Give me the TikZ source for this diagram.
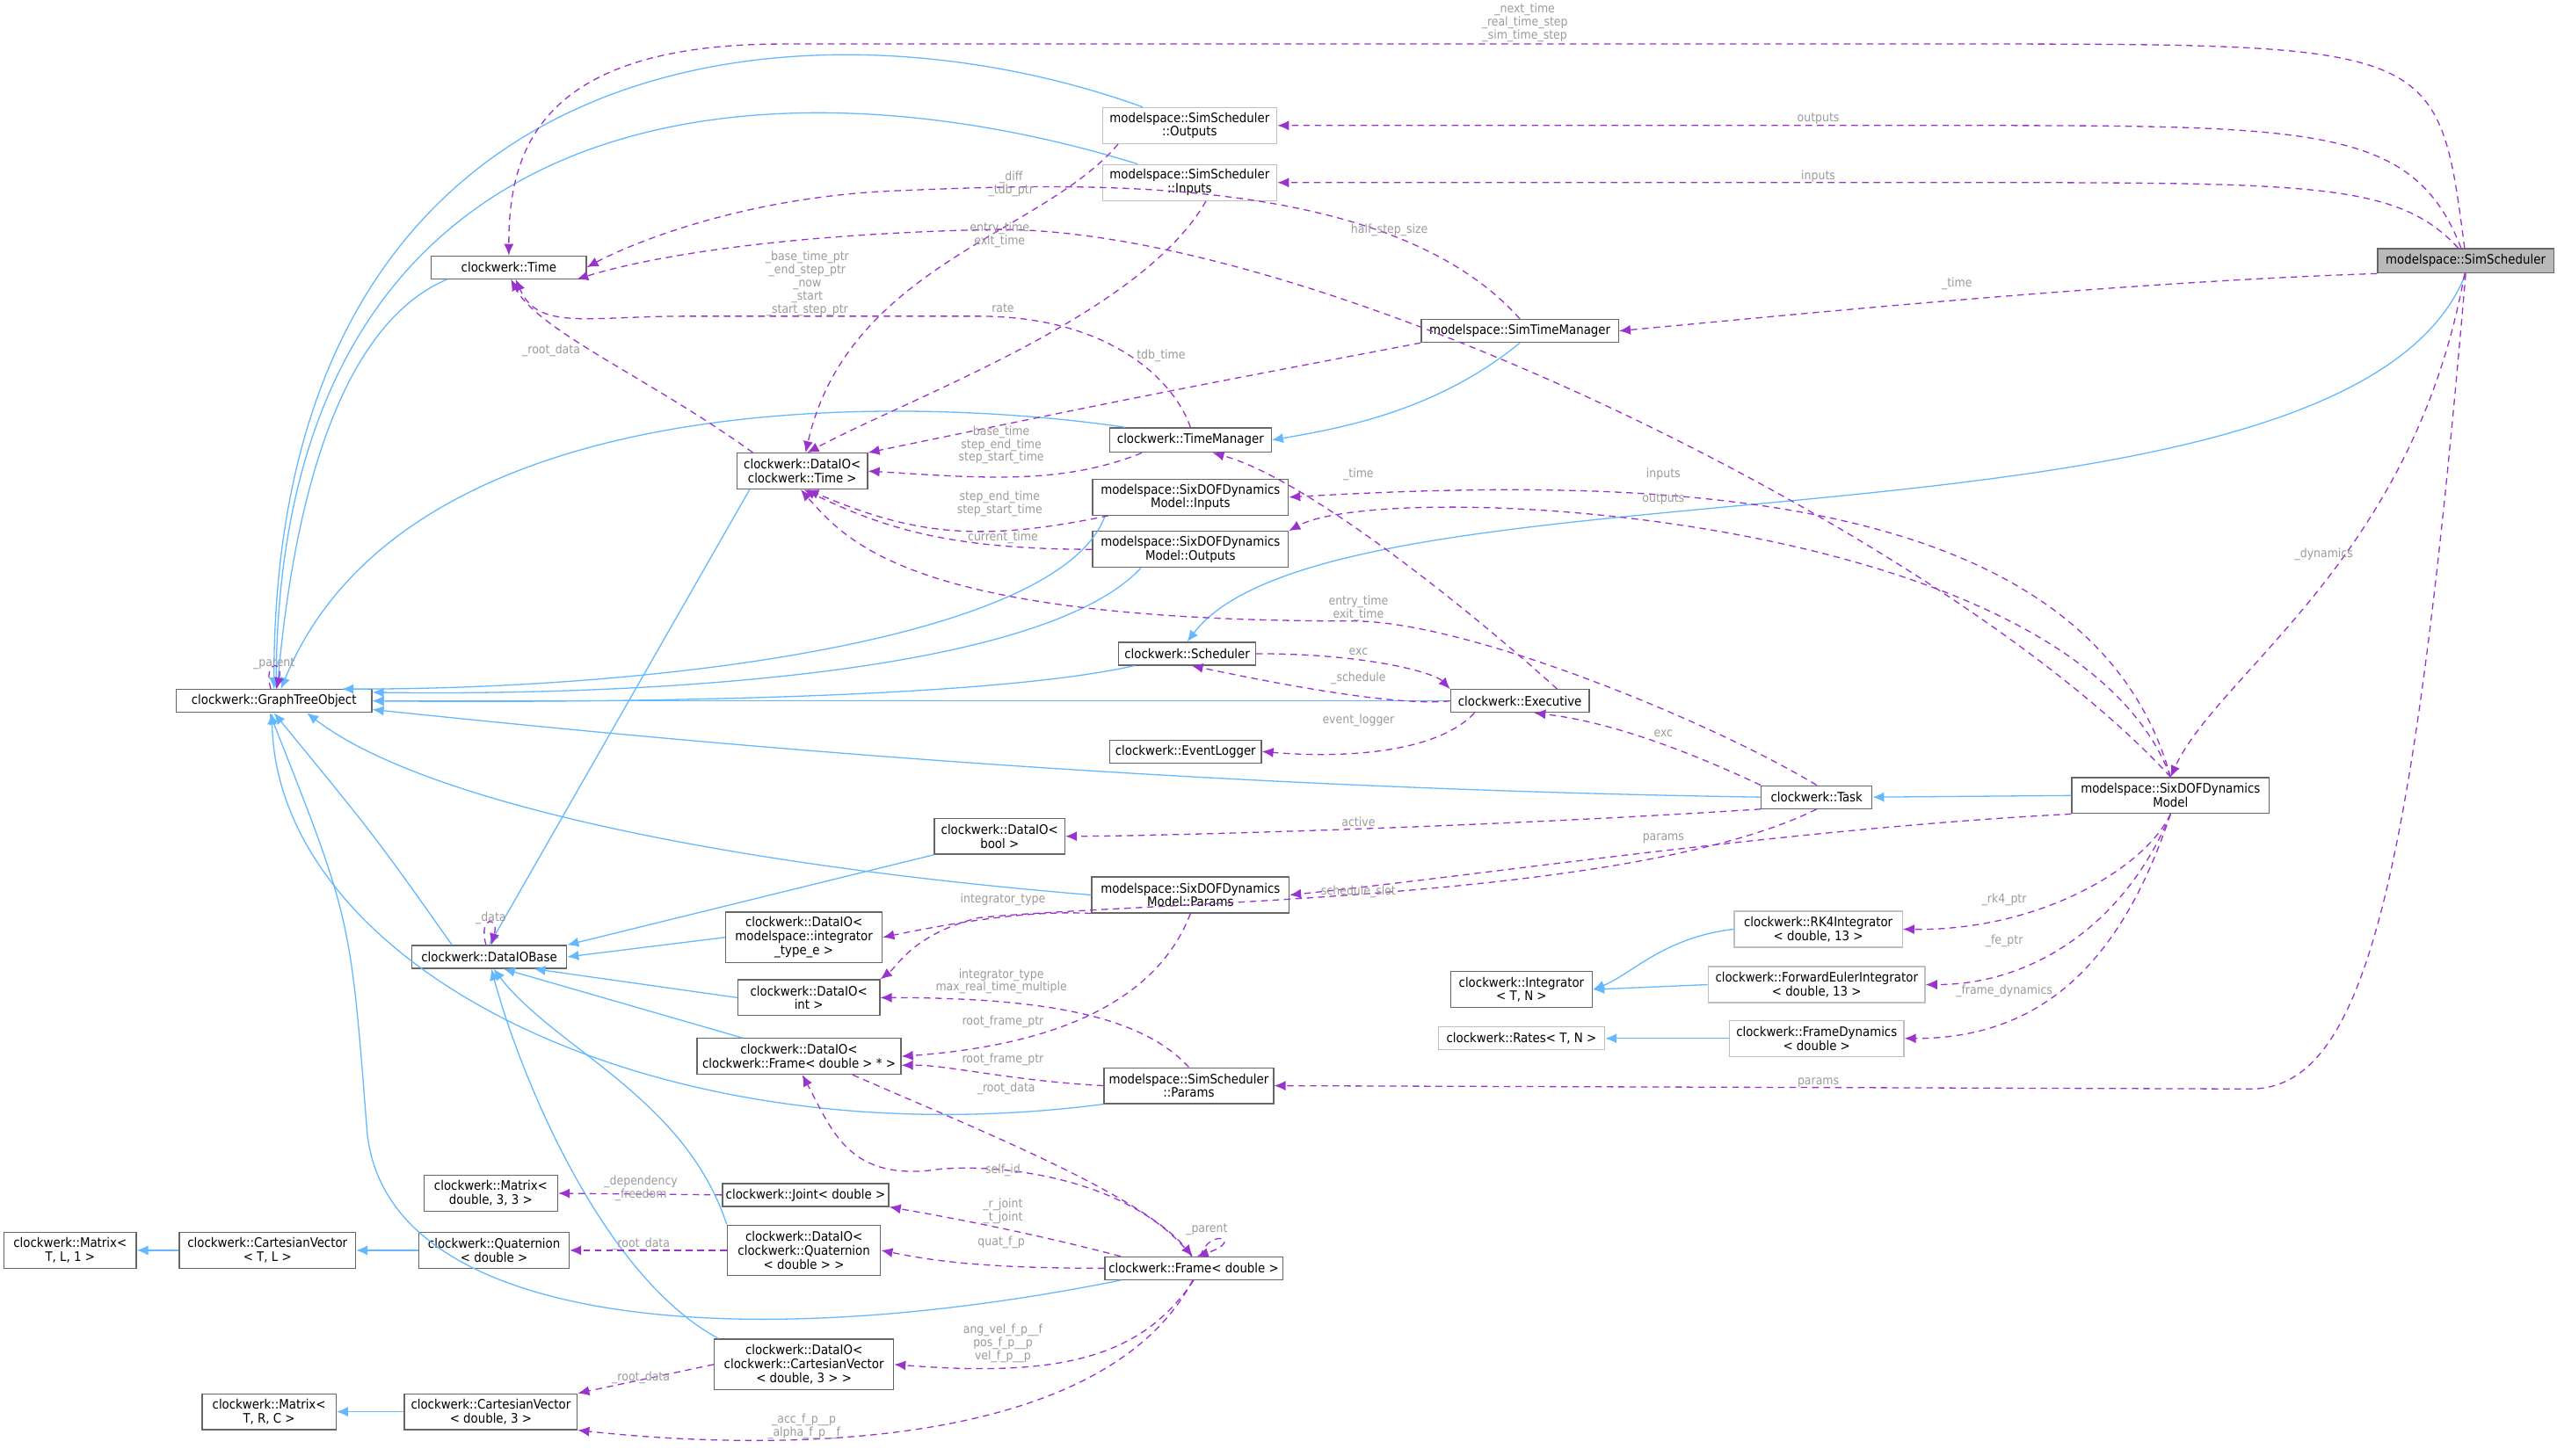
\documentclass[tikz,border=0pt]{standalone}
\usepackage{fontspec}
\setmainfont{DejaVu Sans Condensed}
\usetikzlibrary{arrows.meta}
\definecolor{inhc}{HTML}{63B8FF}
\definecolor{usec}{HTML}{9A32CD}
\definecolor{lblc}{HTML}{9A9A9A}
\definecolor{bdk}{HTML}{666666}
\definecolor{blt}{HTML}{BFBFBF}
\tikzset{
 box/.style={draw=bdk,fill=white,font=\fontsize{8}{8.5}\selectfont,align=center,inner sep=1pt,line width=0.7pt},
 lbox/.style={box,draw=blt},
 inh/.style={draw=inhc,line width=0.7pt,-{Latex[length=7pt,width=6pt]}},
 use/.style={draw=usec,line width=0.7pt,dashed,dash pattern=on 4pt off 3pt,-{Latex[length=7pt,width=6pt]}},
 lbl/.style={text=lblc,font=\fontsize{7.5}{8}\selectfont,align=center,inner sep=0.5pt}
}
\newcommand{\bx}[6]{\node[#1,minimum width=#4pt,minimum height=#5pt] (#2) at (#3) {#6};}
\begin{document}
\begin{tikzpicture}[x=1pt,y=1pt]
\useasboundingbox (0,0) rectangle (1568,893);
% nodes
\bx{box,fill=gray!55}{ss}{1512,733}{108}{15}{modelspace::SimScheduler}
\bx{lbox}{sso}{729.5,816}{107}{22}{modelspace::SimScheduler\\::Outputs}
\bx{lbox}{ssi}{729.5,781}{107}{22}{modelspace::SimScheduler\\::Inputs}
\bx{box}{time}{312,729}{95}{14}{clockwerk::Time}
\bx{box}{stm}{932,690}{121}{14}{modelspace::SimTimeManager}
\bx{box}{tm}{730,623}{99}{15}{clockwerk::TimeManager}
\bx{box}{dt}{492,604}{80}{22}{clockwerk::DataIO<\\clockwerk::Time >}
\bx{box}{sdi}{730,588}{120}{22}{modelspace::SixDOFDynamics\\Model::Inputs}
\bx{box}{sdo}{730,556}{120}{22}{modelspace::SixDOFDynamics\\Model::Outputs}
\bx{box}{sch}{728,492}{84}{14}{clockwerk::Scheduler}
\bx{box}{exe}{932,463}{85}{14}{clockwerk::Executive}
\bx{box}{evl}{727,432}{93}{14}{clockwerk::EventLogger}
\bx{box}{gto}{168,463}{120}{14}{clockwerk::GraphTreeObject}
\bx{box}{task}{1114,404}{68}{14}{clockwerk::Task}
\bx{box}{model}{1331,405}{121}{22}{modelspace::SixDOFDynamics\\Model}
\bx{box}{dbool}{613,380}{80}{22}{clockwerk::DataIO<\\bool >}
\bx{box}{sdp}{730,344}{121}{22}{modelspace::SixDOFDynamics\\Model::Params}
\bx{box}{dib}{300,306}{95}{14}{clockwerk::DataIOBase}
\bx{box}{dinte}{493,318}{96}{31}{clockwerk::DataIO<\\modelspace::integrator\\\_type\_e >}
\bx{box}{dint}{496,281}{87}{22}{clockwerk::DataIO<\\int >}
\bx{box}{dframe}{490,245}{125}{22}{clockwerk::DataIO<\\clockwerk::Frame< double > * >}
\bx{box}{ssp}{729,227}{104}{22}{modelspace::SimScheduler\\::Params}
\bx{box}{integ}{933,286}{87}{22}{clockwerk::Integrator\\< T, N >}
\bx{lbox}{rk4}{1115,323}{103}{22}{clockwerk::RK4Integrator\\< double, 13 >}
\bx{lbox}{fe}{1114,289}{133}{22}{clockwerk::ForwardEulerIntegrator\\< double, 13 >}
\bx{lbox}{rates}{933,256}{102}{14}{clockwerk::Rates< T, N >}
\bx{lbox}{fd}{1114,256}{107}{22}{clockwerk::FrameDynamics\\< double >}
\bx{box}{m33}{301,161}{82}{22}{clockwerk::Matrix<\\double, 3, 3 >}
\bx{box}{joint}{494,160}{102}{14}{clockwerk::Joint< double >}
\bx{box}{mtl}{43,126}{81}{22}{clockwerk::Matrix<\\T, L, 1 >}
\bx{box}{cvtl}{164,126}{108}{22}{clockwerk::CartesianVector\\< T, L >}
\bx{box}{quat}{303,126}{92}{22}{clockwerk::Quaternion\\< double >}
\bx{box}{dquat}{493,126}{94}{31}{clockwerk::DataIO<\\clockwerk::Quaternion\\< double > >}
\bx{box}{frame}{732,115}{109}{14}{clockwerk::Frame< double >}
\bx{box}{dcv}{493,56}{110}{31}{clockwerk::DataIO<\\clockwerk::CartesianVector\\< double, 3 > >}
\bx{box}{mtrc}{165,27}{82}{22}{clockwerk::Matrix<\\T, R, C >}
\bx{box}{cv3}{301,27}{106}{22}{clockwerk::CartesianVector\\< double, 3 >}
% inheritance
\draw[inh] (sso.north west) ++(25,0) .. controls (500,900) and (168,875) .. (gto.north);
\draw[inh] (ssi.north west) ++(22,0) .. controls (480,860) and (172,845) .. (gto.80);
\draw[inh] (time.south west) ++(10,0) .. controls (200,690) and (178,560) .. (gto.75);
\draw[inh] (tm.north west) ++(10,0) .. controls (560,650) and (250,660) .. (gto.60);
\draw[inh] (stm.south) .. controls (880,640) and (820,630) .. (tm.east);
\draw[inh] (sdi.south west) ++(8,0) .. controls (650,500) and (400,470) .. (gto.10);
\draw[inh] (sdo.south west) ++(30,0) .. controls (640,480) and (400,466) .. (gto.5);
\draw[inh] (ss.south) .. controls (1440,540) and (820,620) .. (sch.north);
\draw[inh] (sch.south west) ++(10,0) .. controls (600,463) and (350,462) .. (gto.east);
\draw[inh] (exe.west) -- (gto.east);
\draw[inh] (task.west) .. controls (700,410) and (400,440) .. (gto.-5);
\draw[inh] (model.west) -- (task.east);
\draw[inh] (dt.south west) ++(8,0) -- (dib.north);
\draw[inh] (dbool.south west) -- (dib.north east);
\draw[inh] (sdp.west) .. controls (450,362) and (260,400) .. (gto.-20);
\draw[inh] (dib.north west) ++(25,0) .. controls (230,380) .. (gto.south);
\draw[inh] (dinte.west) -- (dib.east);
\draw[inh] (dint.west) -- (dib.-15);
\draw[inh] (dframe.north west) ++(28,0) -- (dib.-40);
\draw[inh] (ssp.south west) .. controls (400,180) and (170,300) .. (gto.-100);
\draw[inh] (frame.south west) ++(10,0) .. controls (450,60) and (235,80) .. (225,200) .. controls (215,330) .. (gto.-110);
\draw[inh] (dquat.north west) .. controls (420,220) and (340,250) .. (dib.-70);
\draw[inh] (dcv.north west) ++(3,0) .. controls (370,110) and (320,230) .. (dib.-80);
\draw[inh] (rk4.west) .. controls (1020,318) and (1000,295) .. (integ.east);
\draw[inh] (fe.west) -- (integ.east);
\draw[inh] (fd.west) -- (rates.east);
\draw[inh] (cvtl.west) -- (mtl.east);
\draw[inh] (quat.west) -- (cvtl.east);
\draw[inh] (cv3.west) -- (mtrc.east);
% usage
\draw[use] (ss.95) .. controls (1495,866) .. (1200,866) -- (480,866) .. controls (330,866) and (312,800) .. (time.north);
\node[lbl] (l1) at (935,879) {\_next\_time\\\_real\_time\_step\\\_sim\_time\_step};
\draw[use] (ss.110) .. controls (1480,816) and (1420,816) .. (1200,816) -- (sso.east);
\node[lbl] (l2) at (1115,820) {outputs};
\draw[use] (ss.120) .. controls (1470,781) and (1420,781) .. (1200,781) -- (ssi.east);
\node[lbl] (l3) at (1115,785) {inputs};
\draw[use] (ss.south west) .. controls (1300,720) and (1100,700) .. (stm.east);
\node[lbl] (l4) at (1200,719) {\_time};
\draw[use] (ss.-95) .. controls (1480,550) and (1360,480) .. (model.north);
\node[lbl] (l5) at (1425,553) {\_dynamics};
\draw[use] (ss.-90) .. controls (1480,350) and (1450,225) .. (1380,225) -- (ssp.east);
\node[lbl] (l6) at (1115,229) {params};
\draw[use] (stm.north) .. controls (850,790) and (650,780) .. (550,776) .. controls (450,772) and (380,740) .. (time.east);
\node[lbl] (l7) at (620,780) {\_diff\\\_tdb\_ptr};
\draw[use] (model.north) .. controls (1200,560) and (800,760) .. (600,752) .. controls (450,748) and (380,730) .. (time.-10);
\node[lbl] (l8) at (852,752) {half\_step\_size};
\draw[use] (stm.south west) .. controls (700,650) .. (dt.north east);
\node[lbl] (l9) at (712,675) {tdb\_time};
\draw[use] (sso.south west) ++(10,0) .. controls (640,750) and (520,730) .. (dt.80);
\node[lbl] (l10) at (613,749) {entry\_time\\exit\_time};
\draw[use] (ssi.south) ++(10,0) .. controls (700,700) and (560,650) .. (dt.75);
\node[lbl] (l11) at (615,704) {rate};
\draw[use] (tm.north) .. controls (720,660) and (680,699) .. (600,699) -- (420,699) .. controls (360,699) and (330,690) .. (time.-60);
\node[lbl] (l12) at (495,719) {\_base\_time\_ptr\\\_end\_step\_ptr\\\_now\\\_start\\\_start\_step\_ptr};
\draw[use] (dt.north west) ++(10,0) .. controls (400,660) and (330,690) .. (time.-80);
\node[lbl] (l13) at (338,678) {\_root\_data};
\draw[use] (tm.south west) ++(20,0) .. controls (650,595) and (600,600) .. (dt.east);
\node[lbl] (l14) at (614,620) {base\_time\\step\_end\_time\\step\_start\_time};
\draw[use] (sdi.south west) ++(10,0) .. controls (600,560) and (560,565) .. (dt.-75);
\node[lbl] (l15) at (613,584) {step\_end\_time\\step\_start\_time};
\draw[use] (sdo.west) .. controls (580,556) and (540,570) .. (dt.-85);
\node[lbl] (l16) at (615,563) {current\_time};
\draw[use] (task.north) .. controls (1050,450) and (900,512) .. (830,512) .. controls (560,512) and (520,560) .. (dt.-95);
\node[lbl] (l17) at (833,520) {entry\_time\\exit\_time};
\draw[use] (exe.north east) ++(-20,0) .. controls (900,520) and (800,600) .. (tm.-30);
\node[lbl] (l18) at (833,602) {\_time};
\draw[use] (model.north) .. controls (1280,600) and (1000,600) .. (sdi.east);
\node[lbl] (l19) at (1020,602) {inputs};
\draw[use] (model.north) .. controls (1270,580) and (850,600) .. (sdo.north east);
\node[lbl] (l20) at (1020,587) {outputs};
\draw[use] (sch.east) .. controls (840,492) and (880,480) .. (exe.north west);
\node[lbl] (l21) at (833,493) {exc};
\draw[use] (exe.west) .. controls (860,460) and (800,470) .. (sch.-70);
\node[lbl] (l22) at (833,477) {\_schedule};
\draw[use] (exe.south west) ++(15,0) .. controls (880,430) and (820,428) .. (evl.east);
\node[lbl] (l23) at (833,451) {event\_logger};
\draw[use] (task.north west) .. controls (1040,430) and (990,450) .. (exe.-40);
\node[lbl] (l24) at (1020,443) {exc};
\draw[use] (task.south west) .. controls (900,385) and (700,380) .. (dbool.east);
\node[lbl] (l25) at (833,389) {active};
\draw[use] (model.south west) .. controls (1100,385) and (900,355) .. (sdp.east);
\node[lbl] (l26) at (1020,379) {params};
\draw[use] (task.south) .. controls (1000,340) and (700,340) .. (600,330) .. controls (560,320) and (550,300) .. (dint.north east);
\node[lbl] (l27) at (833,346) {schedule\_slot};
\draw[use] (sdp.south west) .. controls (630,335) and (580,326) .. (dinte.east);
\node[lbl] (l28) at (615,341) {integrator\_type};
\draw[use] (sdp.south) .. controls (710,280) and (650,252) .. (dframe.east);
\node[lbl] (l29) at (615,266) {root\_frame\_ptr};
\draw[use] (ssp.north) .. controls (700,270) and (640,281) .. (dint.east);
\node[lbl] (l30) at (614,291) {integrator\_type\\max\_real\_time\_multiple};
\draw[use] (ssp.west) .. controls (620,230) and (580,240) .. (dframe.-5);
\node[lbl] (l31) at (615,243) {root\_frame\_ptr};
\draw[use] (model.south) .. controls (1315,360) and (1250,322) .. (rk4.east);
\node[lbl] (l32) at (1229,341) {\_rk4\_ptr};
\draw[use] (model.south) .. controls (1305,330) and (1250,289) .. (fe.east);
\node[lbl] (l33) at (1229,316) {\_fe\_ptr};
\draw[use] (model.south) .. controls (1300,300) and (1250,256) .. (fd.east);
\node[lbl] (l34) at (1229,285) {\_frame\_dynamics};
\draw[use] (dframe.south east) ++(-30,0) .. controls (600,200) and (700,160) .. (frame.95);
\node[lbl] (l35) at (617,225) {\_root\_data};
\draw[use] (frame.100) .. controls (690,175) and (600,180) .. (570,175) .. controls (520,170) and (510,200) .. (dframe.-80);
\node[lbl] (l36) at (615,175) {self\_id};
\draw[use] (frame.north west) ++(10,0) .. controls (620,140) and (560,150) .. (joint.south east);
\node[lbl] (l37) at (615,150) {\_r\_joint\\\_t\_joint};
\draw[use] (frame.west) .. controls (600,115) and (570,120) .. (dquat.east);
\node[lbl] (l38) at (614,131) {quat\_f\_p};
\draw[use] (frame.south) .. controls (700,60) and (650,48) .. (dcv.east);
\node[lbl] (l39) at (615,69) {ang\_vel\_f\_p\_\_f\\pos\_f\_p\_\_p\\vel\_f\_p\_\_p};
\draw[use] (frame.-95) .. controls (680,10) and (500,0) .. (cv3.south east);
\node[lbl] (l40) at (493,18) {\_acc\_f\_p\_\_p\\\_alpha\_f\_p\_\_f};
\draw[use] (frame.60) .. controls +(5,18) and +(30,10) .. (frame.75);
\node[lbl] (l41) at (740,139) {\_parent};
\draw[use] (joint.west) -- (m33.east);
\node[lbl] (l42) at (393,164) {\_dependency\\\_freedom};
\draw[use] (dquat.west) -- (quat.east);
\node[lbl] (l43) at (393,130) {\_root\_data};
\draw[use] (dcv.west) -- (cv3.north east);
\node[lbl] (l44) at (393,48) {\_root\_data};
\draw[use] (dib.105) .. controls +(-5,18) and +(5,18) .. (dib.80);
\node[lbl] (l45) at (301,330) {\_data};
\draw[use] (gto.105) .. controls +(-5,18) and +(5,18) .. (gto.80);
\node[lbl] (l46) at (168,486) {\_parent};
\end{tikzpicture}
\end{document}
